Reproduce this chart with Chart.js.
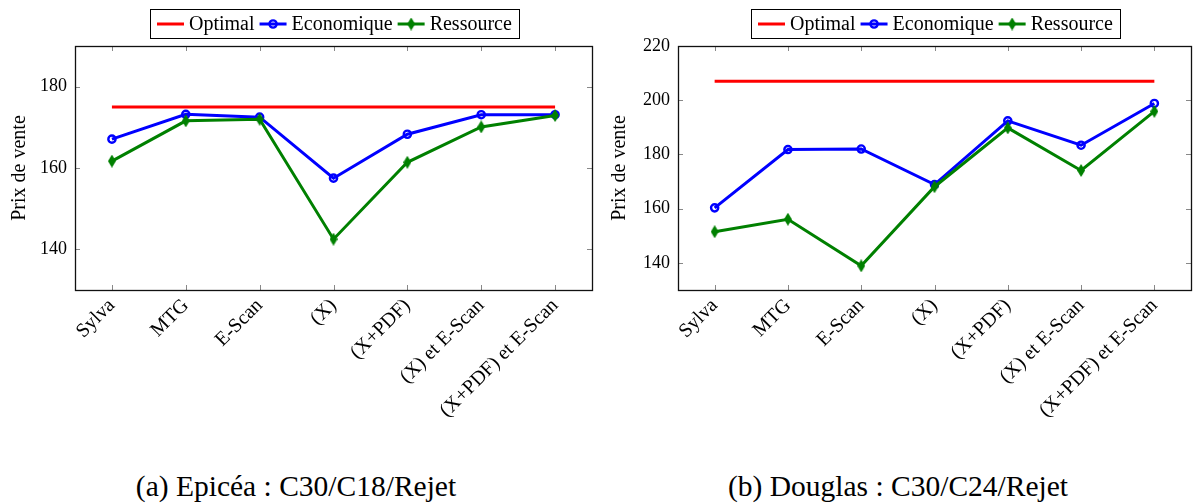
<!DOCTYPE html>
<html><head><meta charset="utf-8">
<script src="https://cdn.jsdelivr.net/npm/chart.js@4/dist/chart.umd.min.js"></script>
<style>
html,body{margin:0;padding:0;background:#fff;width:1199px;height:503px;overflow:hidden;}
#c1{position:absolute;left:0;top:0;}
#c2{position:absolute;left:600px;top:0;}
.cap{position:absolute;top:472px;font-family:"Liberation Serif","Times New Roman",Times,"DejaVu Serif",serif;font-size:29.5px;line-height:29.5px;color:#000;white-space:nowrap;transform:translateX(-50%);}
</style></head><body>
<canvas id="c1" width="600" height="440"></canvas>
<canvas id="c2" width="599" height="440"></canvas>
<div class="cap" style="left:296px">(a) Epicéa : C30/C18/Rejet</div>
<div class="cap" style="left:898px">(b) Douglas : C30/C24/Rejet</div>
<script>
// ---- data ----
const categories = ['Sylva', 'MTG', 'E-Scan', '(X)', '(X+PDF)', '(X) et E-Scan', '(X+PDF) et E-Scan'];
const seriesNames = ['Optimal', 'Economique', 'Ressource'];

const epiceaOptimal    = [175, 175, 175, 175, 175, 175, 175];
const epiceaEconomique = [167.1, 173.2, 172.5, 157.5, 168.3, 173.1, 173.1];
const epiceaRessource  = [161.7, 171.6, 172.0, 142.5, 161.4, 170.1, 172.9];
const epiceaYMin = 130, epiceaYMax = 190;
const epiceaYTicks = [140, 160, 180];

const douglasOptimal    = [207, 207, 207, 207, 207, 207, 207];
const douglasEconomique = [160.3, 181.8, 182.0, 168.9, 192.4, 183.4, 198.8];
const douglasRessource  = [151.5, 156.1, 138.9, 168.1, 189.8, 174.1, 195.9];
const douglasYMin = 130, douglasYMax = 220;
const douglasYTicks = [140, 160, 180, 200, 220];

const yTitle = 'Prix de vente';

// ---- styling helpers ----
const FONT = '"Liberation Serif", "Times New Roman", Times, "DejaVu Serif", serif';
Chart.defaults.color = '#000';
Chart.defaults.font.family = FONT;

function makeDiamond(color, w, h) {
  const c = document.createElement('canvas');
  c.width = w; c.height = h;
  const g = c.getContext('2d');
  g.fillStyle = color;
  g.beginPath();
  g.moveTo(w / 2, 0); g.lineTo(w, h / 2); g.lineTo(w / 2, h); g.lineTo(0, h / 2);
  g.closePath(); g.fill();
  return c;
}
const diamond = makeDiamond('#008000', 8, 13);

function datasets(opt, eco, res) {
  return [
    { label: seriesNames[0], data: opt, borderColor: '#ff0000', backgroundColor: '#ff0000',
      borderWidth: 3, pointRadius: 0, order: 2 },
    { label: seriesNames[1], data: eco, borderColor: '#0000ff', backgroundColor: 'rgba(0,0,0,0)',
      borderWidth: 3, pointRadius: 3.6, pointBorderWidth: 2.4, pointStyle: 'circle',
      pointBackgroundColor: 'rgba(0,0,0,0)', pointBorderColor: '#0000ff', order: 1 },
    { label: seriesNames[2], data: res, borderColor: '#008000', backgroundColor: '#008000',
      borderWidth: 3, pointRadius: 5, pointStyle: diamond, order: 0 }
  ];
}

function drawLegend(chart) {
  const ctx = chart.ctx, ca = chart.chartArea;
  const ds = chart.data.datasets;
  ctx.save();
  ctx.font = '20px ' + FONT;
  const sampleW = 27, gapA = 5, gapB = 5, pad = 7;
  const widths = ds.map(d => ctx.measureText(d.label).width);
  let total = pad * 2;
  widths.forEach((w, i) => { total += sampleW + gapA + w + (i < ds.length - 1 ? gapB : 0); });
  const cx = (ca.left + ca.right) / 2 + 1;
  let x = Math.round(cx - total / 2);
  const top = 9, h = 29, cy = top + h / 2 + 0.5;
  ctx.strokeStyle = '#000'; ctx.lineWidth = 1;
  ctx.strokeRect(x + 0.5, top + 0.5, Math.round(total), h);
  x += pad;
  ds.forEach((d, i) => {
    ctx.strokeStyle = d.borderColor; ctx.lineWidth = d.borderWidth;
    ctx.beginPath(); ctx.moveTo(x, cy); ctx.lineTo(x + sampleW, cy); ctx.stroke();
    const mx = x + sampleW / 2;
    if (d.pointStyle && typeof d.pointStyle === 'object') {
      ctx.drawImage(d.pointStyle, mx - d.pointStyle.width / 2, cy - d.pointStyle.height / 2);
    } else if (d.pointRadius > 0) {
      ctx.lineWidth = d.pointBorderWidth; ctx.strokeStyle = d.pointBorderColor;
      ctx.beginPath(); ctx.arc(mx, cy, d.pointRadius, 0, Math.PI * 2); ctx.stroke();
    }
    x += sampleW + gapA;
    ctx.fillStyle = '#000'; ctx.textAlign = 'left'; ctx.textBaseline = 'middle';
    ctx.fillText(d.label, x, cy + 1);
    x += widths[i] + gapB;
  });
  ctx.restore();
}

const framePlugin = {
  id: 'frame',
  afterDraw(chart) {
    const ctx = chart.ctx, ca = chart.chartArea;
    const xs = chart.scales.x, ys = chart.scales.y;
    ctx.save();
    ctx.strokeStyle = '#888'; ctx.lineWidth = 1;
    const line = (a, b, c, d) => { ctx.beginPath(); ctx.moveTo(a, b); ctx.lineTo(c, d); ctx.stroke(); };
    xs.ticks.forEach((t, i) => {
      const px = Math.round(xs.getPixelForTick(i)) + 0.5;
      line(px, ca.bottom, px, ca.bottom - 5);
      line(px, ca.top, px, ca.top + 5);
    });
    ys.ticks.forEach((t, i) => {
      const py = Math.round(ys.getPixelForTick(i)) + 0.5;
      line(ca.left, py, ca.left + 5, py);
      line(ca.right, py, ca.right - 5, py);
    });
    ctx.strokeStyle = '#111'; ctx.lineWidth = 1.3;
    ctx.strokeRect(Math.round(ca.left) + 0.5, Math.round(ca.top) + 0.5,
                   Math.round(ca.right - ca.left), Math.round(ca.bottom - ca.top));
    ctx.restore();
    drawLegend(chart);
  }
};

function makeChart(id, opt, eco, res, yMin, yMax, yTicks, yAxisWidth, padRight) {
  return new Chart(document.getElementById(id), {
    type: 'line',
    data: { labels: categories, datasets: datasets(opt, eco, res) },
    options: {
      responsive: false, animation: false, devicePixelRatio: 1,
      layout: { padding: { top: 46, left: 0, right: padRight, bottom: 0 } },
      plugins: { legend: { display: false }, tooltip: { enabled: false } },
      elements: { line: { tension: 0 } },
      scales: {
        x: {
          type: 'category', offset: true,
          grid: { display: false, drawTicks: false },
          border: { display: false },
          ticks: { autoSkip: false, minRotation: 45, maxRotation: 45, padding: 4,
                   font: { size: 20 }, color: '#000' },
          afterFit(s) { s.height = 440 - 290; }
        },
        y: {
          min: yMin, max: yMax,
          grid: { display: false, drawTicks: false },
          border: { display: false },
          ticks: { padding: 8, font: { size: 18 }, color: '#000' },
          afterBuildTicks(s) { s.ticks = yTicks.map(v => ({ value: v })); },
          title: { display: true, text: yTitle, font: { size: 20 }, padding: { top: 8, bottom: 0 }, color: '#000' },
          afterFit(s) { s.width = yAxisWidth; }
        }
      }
    },
    plugins: [framePlugin]
  });
}

makeChart('c1', epiceaOptimal, epiceaEconomique, epiceaRessource, epiceaYMin, epiceaYMax, epiceaYTicks, 75, 4);
makeChart('c2', douglasOptimal, douglasEconomique, douglasRessource, douglasYMin, douglasYMax, douglasYTicks, 78, 1);
</script>
</body></html>
